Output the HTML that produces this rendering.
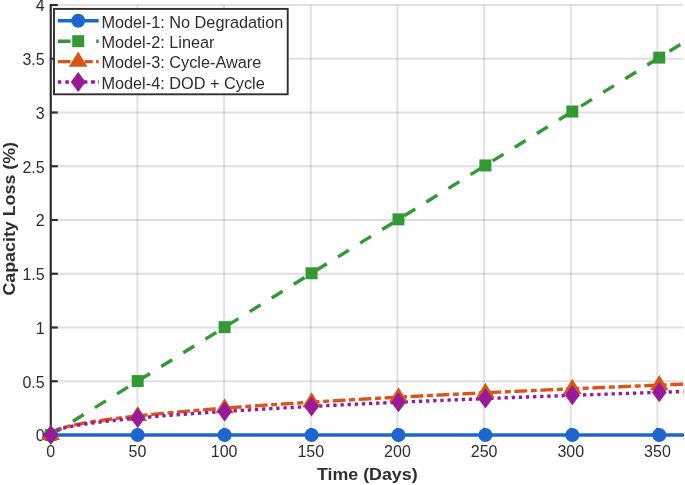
<!DOCTYPE html><html><head><meta charset="utf-8"><title>Capacity Loss</title><style>html,body{margin:0;padding:0;background:#fff}svg{display:block;will-change:transform}text{font-family:"Liberation Sans",Arial,sans-serif;fill:#2e2e2e}</style></head><body>
<svg width="685" height="485" viewBox="0 0 685 485">
<rect width="685" height="485" fill="#fff"/>
<g stroke="rgba(38,38,38,0.145)" stroke-width="1.9" fill="none"><line x1="137.44" x2="137.44" y1="5" y2="435"/><line x1="224.11" x2="224.11" y1="5" y2="435"/><line x1="310.77" x2="310.77" y1="5" y2="435"/><line x1="397.44" x2="397.44" y1="5" y2="435"/><line x1="484.11" x2="484.11" y1="5" y2="435"/><line x1="570.77" x2="570.77" y1="5" y2="435"/><line x1="657.43" x2="657.43" y1="5" y2="435"/><line x1="51.8" x2="683.2" y1="381.25" y2="381.25"/><line x1="51.8" x2="683.2" y1="327.50" y2="327.50"/><line x1="51.8" x2="683.2" y1="273.75" y2="273.75"/><line x1="51.8" x2="683.2" y1="220.00" y2="220.00"/><line x1="51.8" x2="683.2" y1="166.25" y2="166.25"/><line x1="51.8" x2="683.2" y1="112.50" y2="112.50"/><line x1="51.8" x2="683.2" y1="58.75" y2="58.75"/><line x1="51.8" x2="683.2" y1="5.00" y2="5.00"/></g>
<g stroke="#303030" stroke-width="2.2" fill="none">
<line x1="50.75" x2="50.75" y1="3.9" y2="436.1"/>
<line x1="49.65" x2="684" y1="435" y2="435"/>
<line x1="50.75" x2="57.8" y1="435.00" y2="435.00"/>
<line x1="50.75" x2="57.8" y1="381.25" y2="381.25"/>
<line x1="50.75" x2="57.8" y1="327.50" y2="327.50"/>
<line x1="50.75" x2="57.8" y1="273.75" y2="273.75"/>
<line x1="50.75" x2="57.8" y1="220.00" y2="220.00"/>
<line x1="50.75" x2="57.8" y1="166.25" y2="166.25"/>
<line x1="50.75" x2="57.8" y1="112.50" y2="112.50"/>
<line x1="50.75" x2="57.8" y1="58.75" y2="58.75"/>
<line x1="50.75" x2="57.8" y1="5.00" y2="5.00"/>
<line x1="50.78" x2="50.78" y1="435" y2="427.9"/>
<line x1="137.44" x2="137.44" y1="435" y2="427.9"/>
<line x1="224.11" x2="224.11" y1="435" y2="427.9"/>
<line x1="310.77" x2="310.77" y1="435" y2="427.9"/>
<line x1="397.44" x2="397.44" y1="435" y2="427.9"/>
<line x1="484.11" x2="484.11" y1="435" y2="427.9"/>
<line x1="570.77" x2="570.77" y1="435" y2="427.9"/>
<line x1="657.43" x2="657.43" y1="435" y2="427.9"/>
</g>
<text x="44.7" y="441.30" font-size="16" text-anchor="end">0</text>
<text x="44.7" y="387.55" font-size="16" text-anchor="end">0.5</text>
<text x="44.7" y="333.80" font-size="16" text-anchor="end">1</text>
<text x="44.7" y="280.05" font-size="16" text-anchor="end">1.5</text>
<text x="44.7" y="226.30" font-size="16" text-anchor="end">2</text>
<text x="44.7" y="172.55" font-size="16" text-anchor="end">2.5</text>
<text x="44.7" y="118.80" font-size="16" text-anchor="end">3</text>
<text x="44.7" y="65.05" font-size="16" text-anchor="end">3.5</text>
<text x="44.7" y="11.30" font-size="16" text-anchor="end">4</text>
<text x="50.78" y="457.4" font-size="16" text-anchor="middle">0</text>
<text x="137.44" y="457.4" font-size="16" text-anchor="middle">50</text>
<text x="224.11" y="457.4" font-size="16" text-anchor="middle">100</text>
<text x="310.77" y="457.4" font-size="16" text-anchor="middle">150</text>
<text x="397.44" y="457.4" font-size="16" text-anchor="middle">200</text>
<text x="484.11" y="457.4" font-size="16" text-anchor="middle">250</text>
<text x="570.77" y="457.4" font-size="16" text-anchor="middle">300</text>
<text x="657.43" y="457.4" font-size="16" text-anchor="middle">350</text>
<text x="367.3" y="479.6" font-size="17" font-weight="bold" text-anchor="middle" textLength="100.7" lengthAdjust="spacingAndGlyphs">Time (Days)</text>
<text transform="translate(14.6,218.8) rotate(-90)" font-size="17" font-weight="bold" text-anchor="middle" textLength="153.6" lengthAdjust="spacingAndGlyphs">Capacity Loss (%)</text>
<path d="M50.78,435.00 L683.43,435.00" stroke="#1d65cf" stroke-width="3.4" fill="none"/>
<path d="M50.78,435.00 L683.43,42.62" stroke="#339933" stroke-width="3.4" fill="none" stroke-dasharray="12.8 13.2"/>
<path d="M50.78,435.00 L52.51,432.24 L54.25,431.12 L55.98,430.26 L57.71,429.53 L59.45,428.89 L61.18,428.32 L62.91,427.79 L64.65,427.30 L66.38,426.84 L68.11,426.40 L69.85,425.99 L71.58,425.59 L73.31,425.21 L75.05,424.84 L76.78,424.49 L78.51,424.15 L80.25,423.82 L81.98,423.50 L83.71,423.19 L85.45,422.89 L87.18,422.59 L88.91,422.30 L90.65,422.02 L92.38,421.75 L94.11,421.48 L95.85,421.21 L97.58,420.95 L99.31,420.70 L101.05,420.45 L102.78,420.20 L104.51,419.96 L106.25,419.72 L107.98,419.49 L109.71,419.26 L111.45,419.03 L113.18,418.81 L114.91,418.59 L116.65,418.37 L118.38,418.15 L120.11,417.94 L121.85,417.73 L123.58,417.53 L125.31,417.32 L127.05,417.12 L128.78,416.92 L130.51,416.72 L132.25,416.53 L133.98,416.33 L135.71,416.14 L137.44,415.95 L139.18,415.77 L140.91,415.58 L142.64,415.40 L144.38,415.22 L146.11,415.04 L147.84,414.86 L149.58,414.68 L151.31,414.51 L153.04,414.33 L154.78,414.16 L156.51,413.99 L158.24,413.82 L159.98,413.65 L161.71,413.48 L163.44,413.32 L165.18,413.16 L166.91,412.99 L168.64,412.83 L170.38,412.67 L172.11,412.51 L173.84,412.35 L175.58,412.20 L177.31,412.04 L179.04,411.88 L180.78,411.73 L182.51,411.58 L184.24,411.43 L185.98,411.28 L187.71,411.13 L189.44,410.98 L191.18,410.83 L192.91,410.68 L194.64,410.54 L196.38,410.39 L198.11,410.25 L199.84,410.10 L201.58,409.96 L203.31,409.82 L205.04,409.68 L206.78,409.54 L208.51,409.40 L210.24,409.26 L211.98,409.12 L213.71,408.99 L215.44,408.85 L217.18,408.71 L218.91,408.58 L220.64,408.44 L222.38,408.31 L224.11,408.18 L225.84,408.05 L227.58,407.91 L229.31,407.78 L231.04,407.65 L232.78,407.52 L234.51,407.39 L236.24,407.27 L237.98,407.14 L239.71,407.01 L241.44,406.88 L243.18,406.76 L244.91,406.63 L246.64,406.51 L248.38,406.38 L250.11,406.26 L251.84,406.14 L253.58,406.01 L255.31,405.89 L257.04,405.77 L258.78,405.65 L260.51,405.53 L262.24,405.41 L263.98,405.29 L265.71,405.17 L267.44,405.05 L269.18,404.93 L270.91,404.82 L272.64,404.70 L274.38,404.58 L276.11,404.47 L277.84,404.35 L279.58,404.23 L281.31,404.12 L283.04,404.01 L284.78,403.89 L286.51,403.78 L288.24,403.66 L289.98,403.55 L291.71,403.44 L293.44,403.33 L295.18,403.22 L296.91,403.10 L298.64,402.99 L300.38,402.88 L302.11,402.77 L303.84,402.66 L305.58,402.55 L307.31,402.45 L309.04,402.34 L310.77,402.23 L312.51,402.12 L314.24,402.01 L315.97,401.91 L317.71,401.80 L319.44,401.69 L321.17,401.59 L322.91,401.48 L324.64,401.38 L326.37,401.27 L328.11,401.17 L329.84,401.06 L331.57,400.96 L333.31,400.86 L335.04,400.75 L336.77,400.65 L338.51,400.55 L340.24,400.44 L341.97,400.34 L343.71,400.24 L345.44,400.14 L347.17,400.04 L348.91,399.94 L350.64,399.84 L352.37,399.74 L354.11,399.64 L355.84,399.54 L357.57,399.44 L359.31,399.34 L361.04,399.24 L362.77,399.14 L364.51,399.04 L366.24,398.94 L367.97,398.85 L369.71,398.75 L371.44,398.65 L373.17,398.56 L374.91,398.46 L376.64,398.36 L378.37,398.27 L380.11,398.17 L381.84,398.07 L383.57,397.98 L385.31,397.88 L387.04,397.79 L388.77,397.69 L390.51,397.60 L392.24,397.51 L393.97,397.41 L395.71,397.32 L397.44,397.22 L399.17,397.13 L400.91,397.04 L402.64,396.95 L404.37,396.85 L406.11,396.76 L407.84,396.67 L409.57,396.58 L411.31,396.49 L413.04,396.39 L414.77,396.30 L416.51,396.21 L418.24,396.12 L419.97,396.03 L421.71,395.94 L423.44,395.85 L425.17,395.76 L426.91,395.67 L428.64,395.58 L430.37,395.49 L432.11,395.40 L433.84,395.32 L435.57,395.23 L437.31,395.14 L439.04,395.05 L440.77,394.96 L442.51,394.87 L444.24,394.79 L445.97,394.70 L447.71,394.61 L449.44,394.52 L451.17,394.44 L452.91,394.35 L454.64,394.26 L456.37,394.18 L458.11,394.09 L459.84,394.01 L461.57,393.92 L463.31,393.84 L465.04,393.75 L466.77,393.66 L468.51,393.58 L470.24,393.49 L471.97,393.41 L473.71,393.33 L475.44,393.24 L477.17,393.16 L478.91,393.07 L480.64,392.99 L482.37,392.91 L484.11,392.82 L485.84,392.74 L487.57,392.66 L489.30,392.57 L491.04,392.49 L492.77,392.41 L494.50,392.33 L496.24,392.24 L497.97,392.16 L499.70,392.08 L501.44,392.00 L503.17,391.92 L504.90,391.83 L506.64,391.75 L508.37,391.67 L510.10,391.59 L511.84,391.51 L513.57,391.43 L515.30,391.35 L517.04,391.27 L518.77,391.19 L520.50,391.11 L522.24,391.03 L523.97,390.95 L525.70,390.87 L527.44,390.79 L529.17,390.71 L530.90,390.63 L532.64,390.55 L534.37,390.47 L536.10,390.39 L537.84,390.32 L539.57,390.24 L541.30,390.16 L543.04,390.08 L544.77,390.00 L546.50,389.92 L548.24,389.85 L549.97,389.77 L551.70,389.69 L553.44,389.61 L555.17,389.54 L556.90,389.46 L558.64,389.38 L560.37,389.31 L562.10,389.23 L563.84,389.15 L565.57,389.08 L567.30,389.00 L569.04,388.92 L570.77,388.85 L572.50,388.77 L574.24,388.70 L575.97,388.62 L577.70,388.54 L579.44,388.47 L581.17,388.39 L582.90,388.32 L584.64,388.24 L586.37,388.17 L588.10,388.09 L589.84,388.02 L591.57,387.94 L593.30,387.87 L595.04,387.80 L596.77,387.72 L598.50,387.65 L600.24,387.57 L601.97,387.50 L603.70,387.43 L605.44,387.35 L607.17,387.28 L608.90,387.21 L610.64,387.13 L612.37,387.06 L614.10,386.99 L615.84,386.91 L617.57,386.84 L619.30,386.77 L621.04,386.70 L622.77,386.62 L624.50,386.55 L626.24,386.48 L627.97,386.41 L629.70,386.33 L631.44,386.26 L633.17,386.19 L634.90,386.12 L636.64,386.05 L638.37,385.98 L640.10,385.90 L641.84,385.83 L643.57,385.76 L645.30,385.69 L647.04,385.62 L648.77,385.55 L650.50,385.48 L652.24,385.41 L653.97,385.34 L655.70,385.27 L657.43,385.20 L659.17,385.13 L660.90,385.06 L662.63,384.99 L664.37,384.92 L666.10,384.85 L667.83,384.78 L669.57,384.71 L671.30,384.64 L673.03,384.57 L674.77,384.50 L676.50,384.43 L678.23,384.36 L679.97,384.29 L681.70,384.22 L683.43,384.15" stroke="#d9561a" stroke-width="3.4" fill="none" stroke-dasharray="12.8 3.6 6 3.6"/>
<path d="M50.78,435.00 L52.51,432.34 L54.25,431.31 L55.98,430.52 L57.71,429.87 L59.45,429.30 L61.18,428.79 L62.91,428.31 L64.65,427.88 L66.38,427.47 L68.11,427.08 L69.85,426.72 L71.58,426.37 L73.31,426.04 L75.05,425.72 L76.78,425.41 L78.51,425.11 L80.25,424.82 L81.98,424.54 L83.71,424.27 L85.45,424.01 L87.18,423.75 L88.91,423.50 L90.65,423.26 L92.38,423.02 L94.11,422.78 L95.85,422.56 L97.58,422.33 L99.31,422.11 L101.05,421.90 L102.78,421.68 L104.51,421.47 L106.25,421.27 L107.98,421.07 L109.71,420.87 L111.45,420.67 L113.18,420.48 L114.91,420.29 L116.65,420.11 L118.38,419.92 L120.11,419.74 L121.85,419.56 L123.58,419.38 L125.31,419.21 L127.05,419.04 L128.78,418.86 L130.51,418.70 L132.25,418.53 L133.98,418.36 L135.71,418.20 L137.44,418.04 L139.18,417.88 L140.91,417.72 L142.64,417.56 L144.38,417.41 L146.11,417.26 L147.84,417.10 L149.58,416.95 L151.31,416.80 L153.04,416.66 L154.78,416.51 L156.51,416.36 L158.24,416.22 L159.98,416.08 L161.71,415.94 L163.44,415.80 L165.18,415.66 L166.91,415.52 L168.64,415.38 L170.38,415.24 L172.11,415.11 L173.84,414.98 L175.58,414.84 L177.31,414.71 L179.04,414.58 L180.78,414.45 L182.51,414.32 L184.24,414.19 L185.98,414.06 L187.71,413.94 L189.44,413.81 L191.18,413.69 L192.91,413.56 L194.64,413.44 L196.38,413.32 L198.11,413.19 L199.84,413.07 L201.58,412.95 L203.31,412.83 L205.04,412.71 L206.78,412.60 L208.51,412.48 L210.24,412.36 L211.98,412.25 L213.71,412.13 L215.44,412.02 L217.18,411.90 L218.91,411.79 L220.64,411.67 L222.38,411.56 L224.11,411.45 L225.84,411.34 L227.58,411.23 L229.31,411.12 L231.04,411.01 L232.78,410.90 L234.51,410.79 L236.24,410.68 L237.98,410.58 L239.71,410.47 L241.44,410.36 L243.18,410.26 L244.91,410.15 L246.64,410.05 L248.38,409.94 L250.11,409.84 L251.84,409.74 L253.58,409.63 L255.31,409.53 L257.04,409.43 L258.78,409.33 L260.51,409.23 L262.24,409.13 L263.98,409.03 L265.71,408.93 L267.44,408.83 L269.18,408.73 L270.91,408.63 L272.64,408.53 L274.38,408.43 L276.11,408.34 L277.84,408.24 L279.58,408.14 L281.31,408.05 L283.04,407.95 L284.78,407.85 L286.51,407.76 L288.24,407.66 L289.98,407.57 L291.71,407.48 L293.44,407.38 L295.18,407.29 L296.91,407.20 L298.64,407.10 L300.38,407.01 L302.11,406.92 L303.84,406.83 L305.58,406.74 L307.31,406.65 L309.04,406.56 L310.77,406.47 L312.51,406.38 L314.24,406.29 L315.97,406.20 L317.71,406.11 L319.44,406.02 L321.17,405.93 L322.91,405.84 L324.64,405.76 L326.37,405.67 L328.11,405.58 L329.84,405.49 L331.57,405.41 L333.31,405.32 L335.04,405.23 L336.77,405.15 L338.51,405.06 L340.24,404.98 L341.97,404.89 L343.71,404.81 L345.44,404.72 L347.17,404.64 L348.91,404.56 L350.64,404.47 L352.37,404.39 L354.11,404.31 L355.84,404.22 L357.57,404.14 L359.31,404.06 L361.04,403.98 L362.77,403.89 L364.51,403.81 L366.24,403.73 L367.97,403.65 L369.71,403.57 L371.44,403.49 L373.17,403.41 L374.91,403.33 L376.64,403.25 L378.37,403.17 L380.11,403.09 L381.84,403.01 L383.57,402.93 L385.31,402.85 L387.04,402.77 L388.77,402.69 L390.51,402.61 L392.24,402.54 L393.97,402.46 L395.71,402.38 L397.44,402.30 L399.17,402.22 L400.91,402.15 L402.64,402.07 L404.37,401.99 L406.11,401.92 L407.84,401.84 L409.57,401.77 L411.31,401.69 L413.04,401.61 L414.77,401.54 L416.51,401.46 L418.24,401.39 L419.97,401.31 L421.71,401.24 L423.44,401.16 L425.17,401.09 L426.91,401.01 L428.64,400.94 L430.37,400.87 L432.11,400.79 L433.84,400.72 L435.57,400.65 L437.31,400.57 L439.04,400.50 L440.77,400.43 L442.51,400.35 L444.24,400.28 L445.97,400.21 L447.71,400.14 L449.44,400.06 L451.17,399.99 L452.91,399.92 L454.64,399.85 L456.37,399.78 L458.11,399.71 L459.84,399.64 L461.57,399.57 L463.31,399.49 L465.04,399.42 L466.77,399.35 L468.51,399.28 L470.24,399.21 L471.97,399.14 L473.71,399.07 L475.44,399.00 L477.17,398.93 L478.91,398.87 L480.64,398.80 L482.37,398.73 L484.11,398.66 L485.84,398.59 L487.57,398.52 L489.30,398.45 L491.04,398.38 L492.77,398.32 L494.50,398.25 L496.24,398.18 L497.97,398.11 L499.70,398.04 L501.44,397.98 L503.17,397.91 L504.90,397.84 L506.64,397.78 L508.37,397.71 L510.10,397.64 L511.84,397.57 L513.57,397.51 L515.30,397.44 L517.04,397.38 L518.77,397.31 L520.50,397.24 L522.24,397.18 L523.97,397.11 L525.70,397.05 L527.44,396.98 L529.17,396.91 L530.90,396.85 L532.64,396.78 L534.37,396.72 L536.10,396.65 L537.84,396.59 L539.57,396.53 L541.30,396.46 L543.04,396.40 L544.77,396.33 L546.50,396.27 L548.24,396.20 L549.97,396.14 L551.70,396.08 L553.44,396.01 L555.17,395.95 L556.90,395.89 L558.64,395.82 L560.37,395.76 L562.10,395.70 L563.84,395.63 L565.57,395.57 L567.30,395.51 L569.04,395.44 L570.77,395.38 L572.50,395.32 L574.24,395.26 L575.97,395.19 L577.70,395.13 L579.44,395.07 L581.17,395.01 L582.90,394.95 L584.64,394.88 L586.37,394.82 L588.10,394.76 L589.84,394.70 L591.57,394.64 L593.30,394.58 L595.04,394.52 L596.77,394.46 L598.50,394.39 L600.24,394.33 L601.97,394.27 L603.70,394.21 L605.44,394.15 L607.17,394.09 L608.90,394.03 L610.64,393.97 L612.37,393.91 L614.10,393.85 L615.84,393.79 L617.57,393.73 L619.30,393.67 L621.04,393.61 L622.77,393.55 L624.50,393.49 L626.24,393.43 L627.97,393.37 L629.70,393.32 L631.44,393.26 L633.17,393.20 L634.90,393.14 L636.64,393.08 L638.37,393.02 L640.10,392.96 L641.84,392.90 L643.57,392.85 L645.30,392.79 L647.04,392.73 L648.77,392.67 L650.50,392.61 L652.24,392.55 L653.97,392.50 L655.70,392.44 L657.43,392.38 L659.17,392.32 L660.90,392.27 L662.63,392.21 L664.37,392.15 L666.10,392.09 L667.83,392.04 L669.57,391.98 L671.30,391.92 L673.03,391.87 L674.77,391.81 L676.50,391.75 L678.23,391.70 L679.97,391.64 L681.70,391.58 L683.43,391.53" stroke="#991a99" stroke-width="3.4" fill="none" stroke-dasharray="3.3 3.84" stroke-dashoffset="-0.4"/>
<circle cx="50.78" cy="435.00" r="7" fill="#1d65cf"/>
<circle cx="137.70" cy="435.00" r="7" fill="#1d65cf"/>
<circle cx="224.63" cy="435.00" r="7" fill="#1d65cf"/>
<circle cx="311.55" cy="435.00" r="7" fill="#1d65cf"/>
<circle cx="398.48" cy="435.00" r="7" fill="#1d65cf"/>
<circle cx="485.40" cy="435.00" r="7" fill="#1d65cf"/>
<circle cx="572.33" cy="435.00" r="7" fill="#1d65cf"/>
<circle cx="659.25" cy="435.00" r="7" fill="#1d65cf"/>
<rect x="44.78" y="429.00" width="12" height="12" fill="#339933"/>
<rect x="131.70" y="375.09" width="12" height="12" fill="#339933"/>
<rect x="218.63" y="321.18" width="12" height="12" fill="#339933"/>
<rect x="305.55" y="267.27" width="12" height="12" fill="#339933"/>
<rect x="392.48" y="213.36" width="12" height="12" fill="#339933"/>
<rect x="479.40" y="159.44" width="12" height="12" fill="#339933"/>
<rect x="566.33" y="105.53" width="12" height="12" fill="#339933"/>
<rect x="653.25" y="51.62" width="12" height="12" fill="#339933"/>
<path d="M50.78,425.00 L60.08,440.10 L41.48,440.10 Z" fill="#d9561a"/>
<path d="M137.70,405.93 L147.00,421.03 L128.40,421.03 Z" fill="#d9561a"/>
<path d="M224.63,398.14 L233.93,413.24 L215.33,413.24 Z" fill="#d9561a"/>
<path d="M311.55,392.18 L320.85,407.28 L302.25,407.28 Z" fill="#d9561a"/>
<path d="M398.48,387.17 L407.78,402.27 L389.18,402.27 Z" fill="#d9561a"/>
<path d="M485.40,382.76 L494.70,397.86 L476.10,397.86 Z" fill="#d9561a"/>
<path d="M572.33,378.78 L581.63,393.88 L563.03,393.88 Z" fill="#d9561a"/>
<path d="M659.25,375.12 L668.55,390.22 L649.95,390.22 Z" fill="#d9561a"/>
<path d="M50.78,425.00 L58.18,435.00 L50.78,445.00 L43.38,435.00 Z" fill="#991a99"/>
<path d="M137.70,408.02 L145.10,418.02 L137.70,428.02 L130.30,418.02 Z" fill="#991a99"/>
<path d="M224.63,401.42 L232.03,411.42 L224.63,421.42 L217.23,411.42 Z" fill="#991a99"/>
<path d="M311.55,396.43 L318.95,406.43 L311.55,416.43 L304.15,406.43 Z" fill="#991a99"/>
<path d="M398.48,392.26 L405.88,402.26 L398.48,412.26 L391.08,402.26 Z" fill="#991a99"/>
<path d="M485.40,388.61 L492.80,398.61 L485.40,408.61 L478.00,398.61 Z" fill="#991a99"/>
<path d="M572.33,385.33 L579.73,395.33 L572.33,405.33 L564.93,395.33 Z" fill="#991a99"/>
<path d="M659.25,382.32 L666.65,392.32 L659.25,402.32 L651.85,392.32 Z" fill="#991a99"/>
<rect x="54" y="8.9" width="233.7" height="85.4" fill="#fff" stroke="#303030" stroke-width="1.9"/>
<path d="M57.75,20.80 H98.70" stroke="#1d65cf" stroke-width="3.4" fill="none"/>
<circle cx="78.20" cy="20.80" r="7" fill="#1d65cf"/>
<text x="101.4" y="27.60" font-size="16.3">Model-1: No Degradation</text>
<path d="M57.75,41.20 H70.55M96.20,41.20 H98.70" stroke="#339933" stroke-width="3.4" fill="none"/>
<rect x="72.20" y="35.20" width="12" height="12" fill="#339933"/>
<text x="101.4" y="48.00" font-size="16.3">Model-2: Linear</text>
<path d="M57.75,61.60 H70.55M85.00,61.60 H92.80M96.10,61.60 H98.70" stroke="#d9561a" stroke-width="3.4" fill="none"/>
<path d="M78.20,51.60 L87.50,66.70 L68.90,66.70 Z" fill="#d9561a"/>
<text x="101.4" y="68.40" font-size="16.3">Model-3: Cycle-Aware</text>
<path d="M57.75,82.00 H61.30M65.30,82.00 H68.90M83.90,82.00 H87.40M91.00,82.00 H94.90M97.90,82.00 H98.70" stroke="#991a99" stroke-width="3.4" fill="none"/>
<path d="M78.20,72.00 L85.60,82.00 L78.20,92.00 L70.80,82.00 Z" fill="#991a99"/>
<text x="101.4" y="88.80" font-size="16.3">Model-4: DOD + Cycle</text>
</svg></body></html>
